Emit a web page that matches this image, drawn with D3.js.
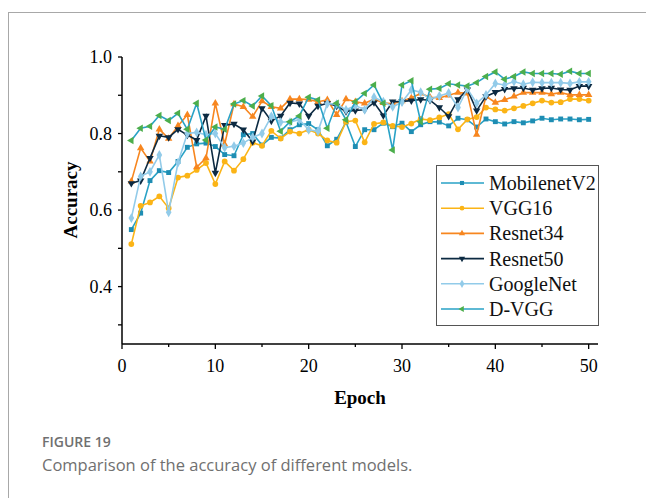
<!DOCTYPE html>
<html><head><meta charset="utf-8">
<script src="https://cdn.jsdelivr.net/npm/d3@7"></script>
<style>body{margin:0;background:#fff;}svg{display:block;}</style>
</head><body>
<svg id="chart" width="646" height="498"></svg>
<script>
const epochs = d3.range(1, 51);
const seriesNames = ["MobilenetV2","VGG16","Resnet34","Resnet50","GoogleNet","D-VGG"];
const mobilenetV2 = [0.549,0.592,0.677,0.703,0.698,0.727,0.764,0.773,0.775,0.766,0.745,0.742,0.797,0.800,0.770,0.790,0.788,0.810,0.823,0.826,0.810,0.768,0.785,0.830,0.766,0.810,0.810,0.827,0.818,0.827,0.805,0.823,0.831,0.830,0.820,0.840,0.836,0.817,0.838,0.831,0.825,0.831,0.828,0.833,0.840,0.836,0.838,0.838,0.836,0.837];
const vgg16 = [0.511,0.611,0.620,0.636,0.605,0.685,0.690,0.705,0.723,0.668,0.727,0.703,0.733,0.776,0.768,0.807,0.787,0.805,0.800,0.810,0.800,0.782,0.776,0.831,0.834,0.777,0.825,0.829,0.820,0.817,0.826,0.838,0.835,0.842,0.851,0.811,0.837,0.843,0.868,0.863,0.860,0.866,0.872,0.879,0.886,0.881,0.882,0.890,0.890,0.886];
const resnet34 = [0.675,0.762,0.727,0.811,0.787,0.820,0.849,0.712,0.736,0.879,0.772,0.877,0.870,0.844,0.885,0.870,0.866,0.890,0.890,0.889,0.883,0.888,0.849,0.890,0.883,0.879,0.890,0.880,0.878,0.885,0.893,0.905,0.895,0.893,0.900,0.907,0.905,0.797,0.897,0.881,0.888,0.897,0.907,0.907,0.907,0.903,0.907,0.901,0.901,0.901];
const resnet50 = [0.670,0.677,0.736,0.794,0.790,0.811,0.796,0.783,0.846,0.697,0.822,0.825,0.810,0.779,0.866,0.833,0.846,0.880,0.878,0.846,0.872,0.879,0.872,0.858,0.860,0.862,0.881,0.847,0.883,0.884,0.886,0.889,0.887,0.868,0.845,0.889,0.915,0.860,0.897,0.908,0.916,0.918,0.919,0.914,0.918,0.919,0.915,0.914,0.924,0.924];
const googleNet = [0.579,0.688,0.700,0.744,0.594,0.724,0.800,0.803,0.797,0.800,0.763,0.767,0.775,0.790,0.800,0.845,0.830,0.830,0.836,0.810,0.806,0.878,0.877,0.862,0.873,0.862,0.895,0.883,0.870,0.882,0.914,0.908,0.890,0.898,0.906,0.868,0.917,0.879,0.901,0.931,0.927,0.936,0.929,0.934,0.933,0.933,0.933,0.931,0.935,0.935];
const dVGG = [0.782,0.814,0.819,0.847,0.834,0.853,0.811,0.879,0.783,0.817,0.811,0.877,0.886,0.872,0.898,0.873,0.806,0.831,0.846,0.895,0.888,0.814,0.879,0.836,0.883,0.905,0.927,0.879,0.757,0.927,0.938,0.831,0.916,0.918,0.930,0.927,0.924,0.933,0.949,0.961,0.942,0.949,0.961,0.957,0.957,0.957,0.955,0.963,0.957,0.957];
const xTickValues = [0,10,20,30,40,50];
const yTickValues = [0.4,0.6,0.8,1.0];
const captionTitle = "FIGURE 19";
const captionText = "Comparison of the accuracy of different models.";

const styles = [
  {values: mobilenetV2, line:"#29a2c6", fill:"#1e8db3", sym:d3.symbolSquare, size:24, rot:0},
  {values: vgg16, line:"#fbb416", fill:"#fbb416", sym:d3.symbolCircle, size:26, rot:0},
  {values: resnet34, line:"#f7861f", fill:"#f7861f", sym:d3.symbolTriangle, size:24, rot:0},
  {values: resnet50, line:"#0c2a42", fill:"#0c2a42", sym:d3.symbolTriangle, size:24, rot:180},
  {values: googleNet, line:"#92cbe9", fill:"#92cbe9", sym:d3.symbolDiamond, size:28, rot:0},
  {values: dVGG, line:"#29a2c6", fill:"#4cae4c", sym:d3.symbolTriangle, size:24, rot:-90}
];

const svg = d3.select("#chart");
svg.append("rect").attr("x",8.5).attr("y",12.5).attr("width",700).attr("height",600)
  .attr("fill","none").attr("stroke","#a8a8a8").attr("stroke-width",1);

const x = d3.scaleLinear().domain([0,51]).range([122,598]);
const y = d3.scaleLinear().domain([0.25,1.0]).range([344,57]);

const font = "'Liberation Serif', 'Times New Roman', serif";

const xAxis = svg.append("g").attr("transform","translate(0,344)");
xAxis.append("line").attr("x1",x(0)).attr("x2",x(51)).attr("stroke","#000").attr("stroke-width",1.5);
xAxis.selectAll(".mj").data(xTickValues).join("line")
  .attr("x1",d=>x(d)).attr("x2",d=>x(d)).attr("y1",0).attr("y2",5).attr("stroke","#000").attr("stroke-width",1.3);
xAxis.selectAll(".mn").data([5,15,25,35,45]).join("line")
  .attr("x1",d=>x(d)).attr("x2",d=>x(d)).attr("y1",0).attr("y2",3).attr("stroke","#000").attr("stroke-width",1.3);
xAxis.selectAll("text").data(xTickValues).join("text")
  .attr("x",d=>x(d)).attr("y",28).attr("text-anchor","middle")
  .attr("font-family",font).attr("font-size",18).text(d=>d);

const yAxis = svg.append("g").attr("transform","translate(122,0)");
yAxis.append("line").attr("y1",y(1.0)).attr("y2",y(0.25)).attr("stroke","#000").attr("stroke-width",1.5);
yAxis.selectAll(".t").data([0.3,0.4,0.5,0.6,0.7,0.8,0.9,1.0]).join("line")
  .attr("y1",d=>y(d)).attr("y2",d=>y(d)).attr("x1",0).attr("x2",-4).attr("stroke","#000").attr("stroke-width",1.3);
yAxis.selectAll("text").data(yTickValues).join("text")
  .attr("x",-10).attr("y",d=>y(d)).attr("dy","0.35em").attr("text-anchor","end")
  .attr("font-family",font).attr("font-size",18).text(d=>d.toFixed(1));

svg.append("text").attr("transform","translate(77,200) rotate(-90)").attr("text-anchor","middle")
  .attr("font-family",font).attr("font-size",19).attr("font-weight","bold").text("Accuracy");
svg.append("text").attr("x",360).attr("y",404).attr("text-anchor","middle")
  .attr("font-family",font).attr("font-size",19).attr("font-weight","bold").text("Epoch");

const line = d3.line().x((d,i)=>x(epochs[i])).y(d=>y(d));
styles.forEach(s=>{
  const g = svg.append("g");
  g.append("path").attr("d",line(s.values)).attr("fill","none").attr("stroke",s.line).attr("stroke-width",1.6);
  g.selectAll("path.m").data(s.values).join("path").attr("class","m")
    .attr("d",d3.symbol().type(s.sym).size(s.size))
    .attr("transform",(d,i)=>`translate(${x(epochs[i])},${y(d)}) rotate(${s.rot})`)
    .attr("fill",s.fill);
});

const lg = svg.append("g");
lg.append("rect").attr("x",436.5).attr("y",165.5).attr("width",162).attr("height",160)
  .attr("fill","#fff").attr("stroke","#555").attr("stroke-width",1);
styles.forEach((s,i)=>{
  const yy = 183 + i*25.2;
  lg.append("line").attr("x1",441).attr("x2",484).attr("y1",yy).attr("y2",yy).attr("stroke",s.line).attr("stroke-width",1.6);
  lg.append("path").attr("d",d3.symbol().type(s.sym).size(s.size*0.7)).attr("transform",`translate(462,${yy}) rotate(${s.rot})`).attr("fill",s.fill);
  lg.append("text").attr("x",489).attr("y",yy).attr("dy","0.35em").attr("font-family",font).attr("font-size",20).attr("fill","#111").text(seriesNames[i]);
});

svg.append("text").attr("x",42).attr("y",447).attr("font-family","'Open Sans','Noto Sans',sans-serif")
  .attr("font-size",14).attr("font-weight",600).attr("fill","#707070").text(captionTitle);
svg.append("text").attr("x",42).attr("y",471).attr("font-family","'Open Sans','Noto Sans',sans-serif")
  .attr("font-size",16.5).attr("fill","#707070").text(captionText);
</script>
</body></html>
